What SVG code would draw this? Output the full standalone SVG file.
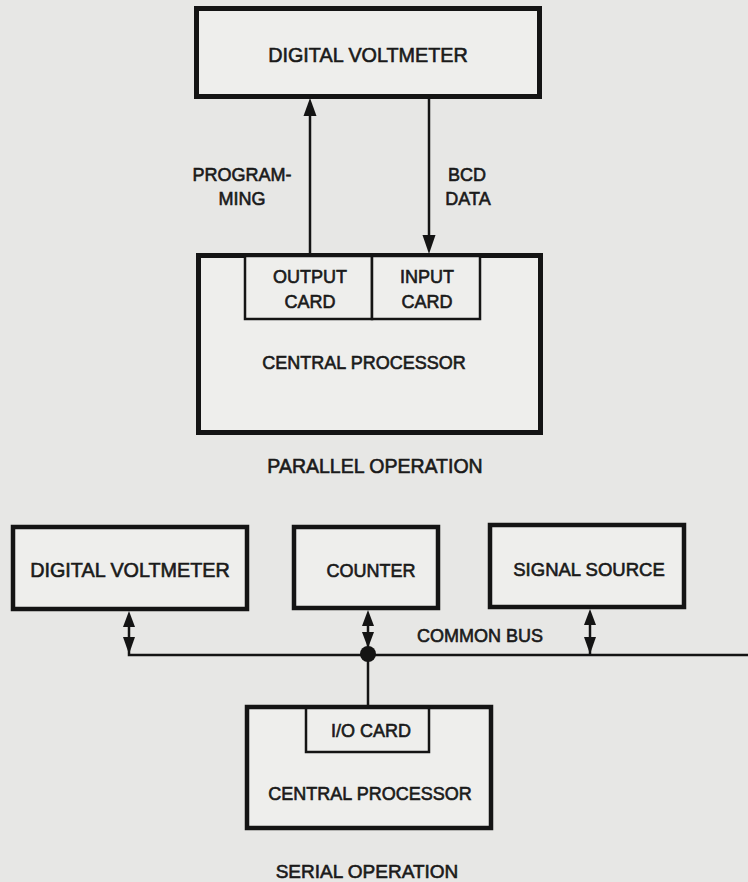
<svg xmlns="http://www.w3.org/2000/svg" width="748" height="882" viewBox="0 0 748 882">
  <style>
    .box { fill: #eeeeec; stroke: #141414; stroke-width: 5; }
    .card { fill: #eeeeec; stroke: #141414; stroke-width: 2.5; }
    .line { fill: none; stroke: #141414; stroke-width: 2.5; }
    .head { fill: #141414; }
    text { font-family: "Liberation Sans", Arial, sans-serif; font-size: 19px; fill: #1a1a1a; stroke: #1a1a1a; stroke-width: 0.6; text-anchor: middle; }
    .sm { font-size: 18px; }
    .lg { font-size: 19.8px; }
  </style>
  <rect width="748" height="882" fill="#e7e7e5"/>

  <!-- Parallel operation -->
  <g id="dvm-top">
    <rect class="box" x="196.5" y="8.5" width="343" height="88"/>
    <text x="368" y="62" class="lg">DIGITAL VOLTMETER</text>
  </g>
  <g id="cp-top">
    <rect class="box" x="198.5" y="255.5" width="342" height="177"/>
    <text x="364" y="369" class="sm">CENTRAL PROCESSOR</text>
  </g>
  <g id="output-card">
    <rect class="card" x="245" y="256" width="127" height="63"/>
    <text x="310" y="283" class="sm">OUTPUT</text>
    <text x="310" y="308" class="sm">CARD</text>
  </g>
  <g id="input-card">
    <rect class="card" x="372" y="256" width="108" height="63"/>
    <text x="427" y="283" class="sm">INPUT</text>
    <text x="427" y="308" class="sm">CARD</text>
  </g>
  <g id="label-parallel">
    <text x="375" y="473" style="font-size:19.5px">PARALLEL OPERATION</text>
  </g>

  <!-- Serial operation -->
  <g id="dvm-bottom">
    <rect class="box" x="13" y="527" width="234" height="82" style="stroke-width:4.5"/>
    <text x="130" y="577" class="lg">DIGITAL VOLTMETER</text>
  </g>
  <g id="counter">
    <rect class="box" x="294" y="527" width="144" height="81" style="stroke-width:4.5"/>
    <text x="371" y="577" class="sm">COUNTER</text>
  </g>
  <g id="signal-source">
    <rect class="box" x="490" y="525" width="194" height="82" style="stroke-width:4.5"/>
    <text x="589" y="576" style="font-size:18.5px">SIGNAL SOURCE</text>
  </g>
  <g id="cp-bottom">
    <rect class="box" x="247" y="707" width="244" height="121" style="stroke-width:4.5"/>
    <text x="370" y="800" class="sm">CENTRAL PROCESSOR</text>
  </g>
  <g id="io-card">
    <rect class="card" x="306" y="708" width="123" height="44"/>
    <text x="371" y="737" class="sm">I/O CARD</text>
  </g>
  <g id="label-serial">
    <text x="367" y="878">SERIAL OPERATION</text>
  </g>

  <g id="connectors">
    <!-- parallel -->
    <line class="line" x1="310" y1="110" x2="310" y2="256"/>
    <polygon class="head" points="310,98 303.5,116 316.5,116"/>
    <line class="line" x1="429" y1="97" x2="429" y2="240"/>
    <polygon class="head" points="429,254 422.5,235 435.5,235"/>
    <text x="242" y="181" class="sm">PROGRAM-</text>
    <text x="242" y="205" class="sm">MING</text>
    <text x="467" y="181" class="sm">BCD</text>
    <text x="468" y="205" class="sm">DATA</text>

    <!-- serial bus -->
    <polyline class="line" points="129,620 129,655 748,655"/>
    <polygon class="head" points="129,611 123,627 135,627"/>
    <polygon class="head" points="129,654 123,637 135,637"/>

    <line class="line" x1="368" y1="620" x2="368" y2="707"/>
    <polygon class="head" points="368,610 362,626 374,626"/>
    <polygon class="head" points="368,648 362,632 374,632"/>
    <circle cx="368" cy="654" r="8" fill="#141414"/>

    <line class="line" x1="590" y1="620" x2="590" y2="655"/>
    <polygon class="head" points="590,609 584,625 596,625"/>
    <polygon class="head" points="590,654 584,637 596,637"/>

    <text x="480" y="642" class="sm">COMMON BUS</text>
  </g>
</svg>
